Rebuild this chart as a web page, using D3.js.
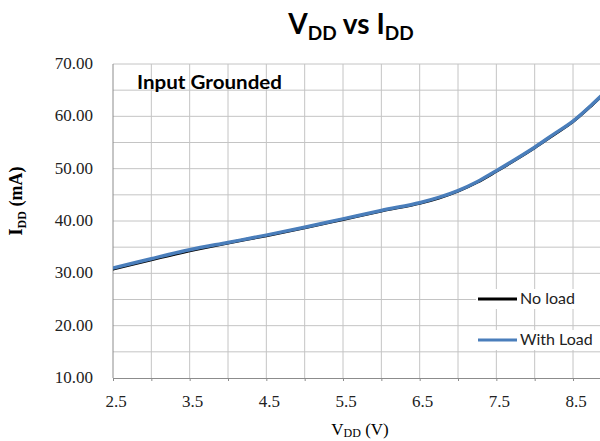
<!DOCTYPE html>
<html>
<head>
<meta charset="utf-8">
<script src="https://cdn.jsdelivr.net/npm/d3@7"></script>
<style>
  body { margin: 0; background: #fff; }
  svg { display: block; }
</style>
</head>
<body>
<svg id="chart" width="600" height="441"></svg>
<script>
// supply voltage (V) and current (mA)
const vdd = [2.5, 3.0, 3.5, 4.0, 4.5, 5.0, 5.5, 6.0, 6.5, 6.75, 7.0, 7.25, 7.5, 7.75, 8.0, 8.25, 8.5, 8.75, 9.0];
const idNoLoad = [30.8, 32.6, 34.3, 35.8, 37.2, 38.7, 40.3, 41.9, 43.4, 44.4, 45.7, 47.4, 49.5, 51.7, 54.0, 56.5, 59.0, 62.2, 65.7];
const idWithLoad = [31.0, 32.8, 34.5, 35.9, 37.3, 38.8, 40.4, 42.0, 43.5, 44.5, 45.8, 47.5, 49.6, 51.8, 54.1, 56.6, 59.1, 62.3, 65.8];
const xTicks = [2.5, 3.5, 4.5, 5.5, 6.5, 7.5, 8.5];
const yTicks = [10, 20, 30, 40, 50, 60, 70];
const seriesNames = ["No load", "With Load"];
const seriesColors = ["#000000", "#4a7ebb"];

const svg = d3.select("#chart");
const margin = {top: 64, left: 113, bottom: 63};
const height = +svg.attr("height");

const x = d3.scaleLinear().domain([2.5, 9.0]).range([margin.left, margin.left + 6.5 * 76.67]);
const y = d3.scaleLinear().domain([10, 70]).range([height - margin.bottom, margin.top]);

// gridlines every 0.5 V and every 5 mA
const grid = svg.append("g").attr("class", "grid");
grid.selectAll("line.v")
    .data(d3.range(3.0, 9.01, 0.5))
    .join("line")
    .attr("x1", d => x(d)).attr("x2", d => x(d))
    .attr("y1", y(70)).attr("y2", y(10))
    .style("stroke", "#c4c4c4").style("stroke-width", 1);
grid.selectAll("line.h")
    .data(d3.range(15, 70.01, 5))
    .join("line")
    .attr("x1", x(2.5)).attr("x2", 600)
    .attr("y1", d => y(d)).attr("y2", d => y(d))
    .style("stroke", "#c4c4c4").style("stroke-width", 1);

// axes
const xAxis = d3.axisBottom(x).tickValues(d3.range(2.5, 9.01, 0.5)).tickSize(3).tickFormat("");
svg.append("g")
    .attr("transform", `translate(0,${y(10)})`)
    .call(xAxis)
    .call(g => g.selectAll("path, line").style("stroke", "#8c8c8c"));
svg.append("line")
    .attr("x1", x(2.5)).attr("x2", x(2.5))
    .attr("y1", y(70)).attr("y2", y(10))
    .style("stroke", "#8c8c8c");

svg.selectAll("text.xtick")
    .data(xTicks)
    .join("text")
    .attr("class", "xtick")
    .attr("x", d => x(d) + 3)
    .attr("y", y(10) + 29)
    .attr("text-anchor", "middle")
    .style("font-family", "'Liberation Serif', serif")
    .style("font-size", "17px")
    .style("fill", "#222")
    .text(d => d.toFixed(1));

svg.selectAll("text.ytick")
    .data(yTicks)
    .join("text")
    .attr("class", "ytick")
    .attr("x", 93)
    .attr("y", d => y(d) + 5)
    .attr("text-anchor", "end")
    .style("font-family", "'Liberation Serif', serif")
    .style("font-size", "17px")
    .style("fill", "#222")
    .text(d => d.toFixed(2));

// axis titles
const yTitle = svg.append("text")
    .attr("transform", "translate(22,201) rotate(-90)")
    .attr("text-anchor", "middle")
    .style("font-family", "'Liberation Serif', serif")
    .style("font-weight", "bold")
    .style("font-size", "18px");
yTitle.append("tspan").text("I");
yTitle.append("tspan").attr("dy", 4).style("font-size", "12px").text("DD");
yTitle.append("tspan").attr("dy", -4).text(" (mA)");

const xTitle = svg.append("text")
    .attr("x", 360).attr("y", 435)
    .attr("text-anchor", "middle")
    .style("font-family", "'Liberation Serif', serif")
    .style("font-size", "17px");
xTitle.append("tspan").text("V");
xTitle.append("tspan").attr("dy", 2).style("font-size", "12px").text("DD");
xTitle.append("tspan").attr("dy", -2).text(" (V)");

// chart title
const title = svg.append("text")
    .attr("x", 351).attr("y", 34)
    .attr("text-anchor", "middle")
    .style("font-family", "Lato, 'Open Sans', sans-serif")
    .style("font-weight", "bold")
    .style("font-size", "28px");
title.append("tspan").text("V");
title.append("tspan").attr("dy", 6).style("font-size", "19px").text("DD");
title.append("tspan").attr("dy", -6).text(" vs I");
title.append("tspan").attr("dy", 6).style("font-size", "19px").text("DD");

svg.append("text")
    .attr("x", 137).attr("y", 89)
    .attr("textLength", 145)
    .attr("lengthAdjust", "spacingAndGlyphs")
    .style("font-family", "Lato, 'Open Sans', sans-serif")
    .style("font-weight", "bold")
    .style("font-size", "18px")
    .text("Input Grounded");

// series
const line = d3.line()
    .x(d => x(d[0]))
    .y(d => y(d[1]))
    .curve(d3.curveCatmullRom.alpha(0.5));

const series = [
    {name: seriesNames[0], color: seriesColors[0], width: 3, values: vdd.map((v, i) => [v, idNoLoad[i]])},
    {name: seriesNames[1], color: seriesColors[1], width: 3.5, values: vdd.map((v, i) => [v, idWithLoad[i]])}
];

svg.append("clipPath").attr("id", "plotClip")
    .append("rect")
    .attr("x", x(2.5)).attr("y", y(70))
    .attr("width", 600).attr("height", y(10) - y(70));

svg.append("g").attr("clip-path", "url(#plotClip)")
    .selectAll("path")
    .data(series)
    .join("path")
    .attr("d", d => line(d.values))
    .style("fill", "none")
    .style("stroke", d => d.color)
    .style("stroke-width", d => d.width)
    .style("stroke-linecap", "round");

// legend
const legend = svg.append("g").selectAll("g")
    .data(series)
    .join("g")
    .attr("transform", (d, i) => `translate(478,${299 + i * 41})`);
legend.append("rect")
    .attr("x", -2).attr("y", -10)
    .attr("width", 124).attr("height", 20)
    .style("fill", "#fff");
legend.append("line")
    .attr("x1", 0).attr("x2", 39)
    .style("stroke", d => d.color)
    .style("stroke-width", 3);
legend.append("text")
    .attr("x", 42).attr("y", 5)
    .style("font-family", "Lato, 'Open Sans', sans-serif")
    .style("font-size", "16px")
    .style("fill", "#222")
    .text(d => d.name);
</script>
</body>
</html>
